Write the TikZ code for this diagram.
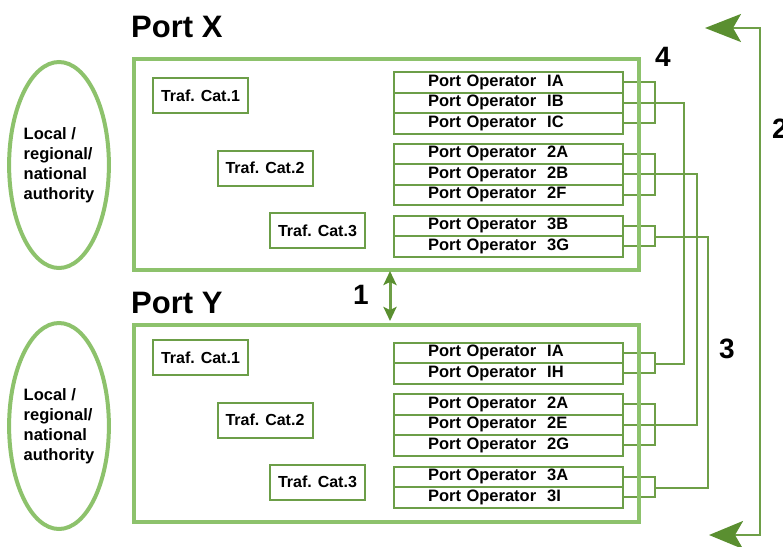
\documentclass[tikz,border=0pt]{standalone}
\usepackage{fontspec}
\setmainfont{Liberation Sans}
\usetikzlibrary{arrows.meta,positioning,shapes.geometric}
\definecolor{frameGreen}{HTML}{8DC26C}
\definecolor{boxGreen}{HTML}{6C9E48}
\definecolor{linkGreen}{HTML}{6E9F47}
\definecolor{arrowGreen}{HTML}{5A8F30}

\begin{document}
\begin{tikzpicture}[x=1pt,y=-1pt,>=Stealth,
  portframe/.style={draw=frameGreen,line width=4pt,minimum width=505pt,minimum height=211pt,anchor=north west,inner sep=0pt},
  authority/.style={ellipse,draw=frameGreen,line width=4pt,minimum width=98pt,minimum height=206pt,inner sep=0pt,align=left,font=\fontsize{16.5}{20}\selectfont\bfseries},
  trafcat/.style={draw=boxGreen,line width=2pt,minimum width=95pt,minimum height=35pt,inner sep=0pt,font=\fontsize{16}{19}\selectfont\bfseries},
  oprow/.style={draw=boxGreen,line width=2pt,minimum width=229pt,text width=229pt,minimum height=20.5pt,inner sep=0pt,anchor=north west,align=left,font=\fontsize{16.5}{19}\selectfont\bfseries},
  porttitle/.style={anchor=west,inner sep=0pt,font=\fontsize{31}{34}\selectfont\bfseries},
  numlabel/.style={inner sep=0pt,font=\fontsize{28}{30}\selectfont\bfseries},
  link/.style={draw=linkGreen,line width=2pt},
  rail/.style={draw=linkGreen,line width=2.5pt}]
\useasboundingbox (0,0) rectangle (783,546);

% authorities
\node[authority] (authX) at (59,165) {Local /\\regional/\\national\\authority};
\node[authority] (authY) at (59,426) {Local /\\regional/\\national\\authority};

% titles
\node[porttitle] (titleX) at (131,27) {Port X};
\node[porttitle] (titleY) at (131,303) {Port Y};

% traffic categories
\node[trafcat] (xCat1) at (200.5,95.5) {Traf. Cat.1};
\node[trafcat] (xCat2) at (265,168) {Traf. Cat.2};
\node[trafcat] (xCat3) at (317.5,230.5) {Traf. Cat.3};
\node[trafcat] (yCat1) at (200.5,357.5) {Traf. Cat.1};
\node[trafcat] (yCat2) at (265,420) {Traf. Cat.2};
\node[trafcat] (yCat3) at (317.5,482) {Traf. Cat.3};

% port operators, port X
\node[oprow] (xOpIA) at (393,71) {\hspace*{34pt}Port Operator\ \ IA};
\node[oprow] (xOpIB) at (393,91.5) {\hspace*{34pt}Port Operator\ \ IB};
\node[oprow] (xOpIC) at (393,112) {\hspace*{34pt}Port Operator\ \ IC};
\node[oprow] (xOp2A) at (393,142.5) {\hspace*{34pt}Port Operator\ \ 2A};
\node[oprow] (xOp2B) at (393,163) {\hspace*{34pt}Port Operator\ \ 2B};
\node[oprow] (xOp2F) at (393,183.5) {\hspace*{34pt}Port Operator\ \ 2F};
\node[oprow] (xOp3B) at (393,214.5) {\hspace*{34pt}Port Operator\ \ 3B};
\node[oprow] (xOp3G) at (393,235) {\hspace*{34pt}Port Operator\ \ 3G};

% port operators, port Y
\node[oprow] (yOpIA) at (393,341.5) {\hspace*{34pt}Port Operator\ \ IA};
\node[oprow] (yOpIH) at (393,362) {\hspace*{34pt}Port Operator\ \ IH};
\node[oprow] (yOp2A) at (393,393) {\hspace*{34pt}Port Operator\ \ 2A};
\node[oprow] (yOp2E) at (393,413.5) {\hspace*{34pt}Port Operator\ \ 2E};
\node[oprow] (yOp2G) at (393,434) {\hspace*{34pt}Port Operator\ \ 2G};
\node[oprow] (yOp3A) at (393,465.5) {\hspace*{34pt}Port Operator\ \ 3A};
\node[oprow] (yOp3I) at (393,486) {\hspace*{34pt}Port Operator\ \ 3I};

% links between operators
\coordinate (brace) at (655,0);
\coordinate (busOne) at (684,0);
\coordinate (busTwo) at (697,0);
\coordinate (busThree) at (708,0);
\draw[link] (xOpIA.east) -- (xOpIA.east -| brace) -- (xOpIC.east -| brace) -- (xOpIC.east);
\draw[link] (xOpIB.east) -| (busOne |- yOpIA.south east) -- (yOpIA.south east -| brace);
\draw[link] (yOpIA.east) -- (yOpIA.east -| brace) -- (yOpIH.east -| brace) -- (yOpIH.east);
\draw[link] (xOp2A.east) -- (xOp2A.east -| brace) -- (xOp2F.east -| brace) -- (xOp2F.east);
\draw[link] (xOp2B.east) -| (busTwo |- yOp2E.east) -- (yOp2E.east);
\draw[link] (yOp2A.east) -- (yOp2A.east -| brace) -- (yOp2G.east -| brace) -- (yOp2G.east);
\draw[link] (xOp3B.east) -- (xOp3B.east -| brace) -- (xOp3G.east -| brace) -- (xOp3G.east);
\draw[link] (xOp3B.south east -| brace) -| (busThree |- yOp3A.south east) -- (yOp3A.south east -| brace);
\draw[link] (yOp3A.east) -- (yOp3A.east -| brace) -- (yOp3I.east -| brace) -- (yOp3I.east);

% port frames
\node[portframe] (portX) at (132,57) {};
\node[portframe,minimum height=197pt] (portY) at (132,323) {};

% arrows
\coordinate (gapTop) at (390,271);
\coordinate (gapBot) at (390,321);
\draw[rail,line width=3pt,{Stealth[length=14pt,width=13pt,inset=3pt,color=arrowGreen]}-{Stealth[length=14pt,width=13pt,inset=3pt,color=arrowGreen]}] (gapTop) -- (gapBot);
\coordinate (tipTop) at (705,28);
\coordinate (railTop) at (760,28);
\coordinate (railBot) at (760,535);
\coordinate (tipBot) at (709,535);
\draw[rail,{Stealth[length=36pt,width=28pt,inset=8pt,color=arrowGreen]}-{Stealth[length=34pt,width=28pt,inset=8pt,color=arrowGreen]}] (tipTop) -- (railTop) -- (railBot) -- (tipBot);

% numbers
\node[numlabel] (num1) at (361,295) {1};
\node[numlabel] (num2) at (780,129) {2};
\node[numlabel] (num3) at (727,349) {3};
\node[numlabel] (num4) at (663,57) {4};
\end{tikzpicture}
\end{document}
